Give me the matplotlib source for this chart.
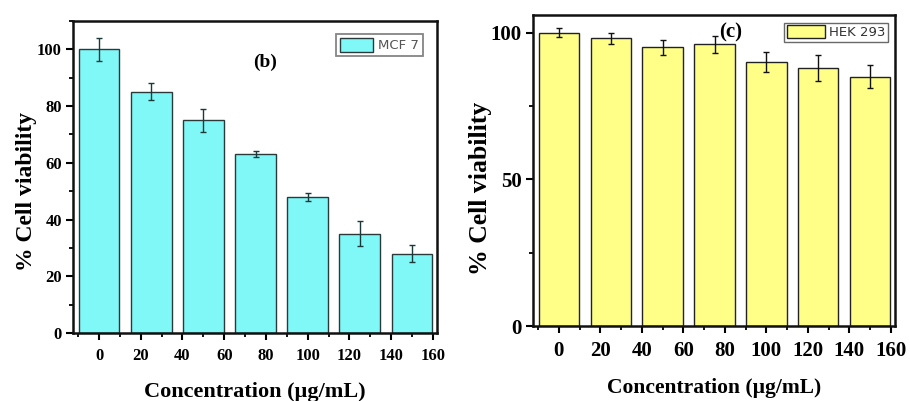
import matplotlib
matplotlib.use("Agg")
import matplotlib.pyplot as plt
from matplotlib.ticker import MultipleLocator, FixedLocator

positions = [0, 25, 50, 75, 100, 125, 150]
mcf7_values = [100, 85, 75, 63, 48, 35, 28]
mcf7_errors = [4, 3, 4, 1, 1.5, 4.5, 3]
hek_values = [100, 98, 95, 96, 90, 88, 85]
hek_errors = [1.5, 2, 2.5, 3, 3.5, 4.5, 4]
xticks = [0, 20, 40, 60, 80, 100, 120, 140, 160]

plt.rcParams['font.family'] = ['Liberation Serif', 'DejaVu Serif']

fig = plt.figure(figsize=(9.10, 4.01), dpi=100)
axL = fig.add_axes([0.0802, 0.1696, 0.400, 0.778])
axR = fig.add_axes([0.5857, 0.187, 0.3978, 0.7756])


def style(ax, ymax, ymajor, yminor, tsize, xlsize, ylsize, ylx, yly, xpad):
    ax.set_xlim(-12.5, 162)
    ax.set_ylim(0, ymax)
    ax.set_xticks(xticks)
    ax.set_xticklabels([str(t) for t in xticks])
    ax.xaxis.set_minor_locator(FixedLocator([-10, 10, 30, 50, 70, 90, 110, 130, 150]))
    ax.yaxis.set_major_locator(MultipleLocator(ymajor))
    ax.yaxis.set_minor_locator(MultipleLocator(yminor))
    ax.tick_params(axis='both', which='major', direction='out', length=5, width=1.5,
                   labelsize=tsize, pad=3)
    ax.tick_params(axis='both', which='minor', direction='out', length=3, width=1.3)
    ax.tick_params(axis='x', which='major', pad=6)
    for lab in ax.get_xticklabels() + ax.get_yticklabels():
        lab.set_fontweight('bold')
    for sp in ax.spines.values():
        sp.set_linewidth(1.8)
        sp.set_color('#111111')
    ax.set_xlabel('Concentration (µg/mL)', fontsize=xlsize, fontweight='bold', labelpad=xpad)
    ax.set_ylabel('% Cell viability', fontsize=ylsize, fontweight='bold', va='center')
    ax.yaxis.set_label_coords(ylx, yly)


# Left panel (b)
axL.bar(positions, mcf7_values, width=19.5, color='#80F8F8', edgecolor='#2a3a3a',
        linewidth=1.0, label='MCF 7', zorder=2)
axL.errorbar(positions, mcf7_values, yerr=mcf7_errors, fmt='none', ecolor='#1a3a3a',
             elinewidth=1.0, capsize=2, capthick=1.0, zorder=3)
style(axL, 110, 20, 10, 12, 16, 17, -0.129, 0.455, 13)
axL.text(79.5, 95.4, '(b)', fontsize=14, fontweight='bold', ha='center', va='center')
legL = axL.legend(loc='upper right', bbox_to_anchor=(0.962, 0.958), frameon=True, fancybox=False,
                  handlelength=2.5, handleheight=1.2, borderpad=0.3, handletextpad=0.4,
                  borderaxespad=0.0,
                  prop={'family': 'DejaVu Sans', 'size': 9.5, 'weight': 'normal'})
legL.get_frame().set_edgecolor('#666666')
legL.get_frame().set_linewidth(1.3)
for t in legL.get_texts():
    t.set_color('#555555')

# Right panel (c)
axR.bar(positions, hek_values, width=19.5, color='#FFFF88', edgecolor='#222222',
        linewidth=1.0, label='HEK 293', zorder=2)
axR.errorbar(positions, hek_values, yerr=hek_errors, fmt='none', ecolor='#111111',
             elinewidth=1.0, capsize=2.5, capthick=1.0, zorder=3)
style(axR, 106, 50, 25, 15, 15.5, 18.5, -0.146, 0.444, 12)
axR.text(83, 100, '(c)', fontsize=15, fontweight='bold', ha='center', va='center')
legR = axR.legend(loc='upper right', bbox_to_anchor=(0.98, 0.975), frameon=True, fancybox=False,
                  handlelength=2.9, handleheight=1.1, borderpad=0.2, handletextpad=0.3,
                  borderaxespad=0.0,
                  prop={'family': 'DejaVu Sans', 'size': 9.5, 'weight': 'normal'})
legR.get_frame().set_edgecolor('#444444')
legR.get_frame().set_linewidth(1.0)
for t in legR.get_texts():
    t.set_color('#333333')

fig.savefig('out.png', dpi=100)
